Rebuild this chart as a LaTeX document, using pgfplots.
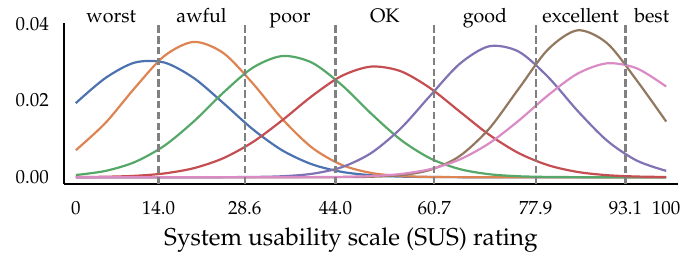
\documentclass[border=0pt]{standalone}
\usepackage[T1]{fontenc}
\usepackage{mathpazo}
\usepackage{pgfplots}
\pgfplotsset{compat=1.18}
\definecolor{cblue}{HTML}{4C72B0}
\definecolor{corange}{HTML}{DD8452}
\definecolor{cgreen}{HTML}{55A868}
\definecolor{cred}{HTML}{C44E52}
\definecolor{cpurple}{HTML}{8172B3}
\definecolor{cbrown}{HTML}{937860}
\definecolor{cpink}{HTML}{DA8BC3}
\definecolor{cgray}{HTML}{808080}
\tikzset{toplab/.style={anchor=base, font=\fontsize{9.8}{11}\selectfont, inner sep=0pt}}
\pgfplotsset{curve/.style={line width=1.1pt, smooth, tension=0.5, no markers}}
\begin{document}
\begin{tikzpicture}
\begin{axis}[
  scale only axis,
  width=307pt, height=80.7pt,
  xmin=-2, xmax=102,
  ymin=-0.0018, ymax=0.0403,
  clip=false,
  axis x line=bottom, axis y line=left,
  axis line style={-, line width=1pt, black},
  xtick={0,14,28.6,44,60.7,77.9,93.1,100},
  xticklabels={0,14.0,28.6,44.0,60.7,77.9,93.1,100},
  ytick={0,0.02,0.04},
  yticklabels={0.00,0.02,0.04},
  scaled y ticks=false,
  major tick length=0pt,
  xticklabel style={font=\fontsize{9.5}{11}\selectfont, yshift=-5pt},
  yticklabel style={font=\fontsize{9.5}{11}\selectfont, xshift=-4pt},
  xlabel={System usability scale (SUS) rating},
  xlabel style={font=\fontsize{12.2}{14}\selectfont, yshift=0.5pt, xshift=-10pt},
]
\addplot[curve, cblue] coordinates {(0,0.019317)(5,0.025850)(10,0.029905)(15,0.029905)(20,0.025850)(25,0.019317)(30,0.012477)(35,0.006967)(40,0.003362)(45,0.001403)(50,0.000506)(55,0.000158)(60,0.000043)(65,0.000010)(70,0.000002)(75,0)(80,0)(85,0)(90,0)(95,0)(100,0)};
\addplot[curve, corange] coordinates {(0,0.007031)(5,0.014117)(10,0.023303)(15,0.031628)(20,0.035293)(25,0.032380)(30,0.024425)(35,0.015148)(40,0.007724)(45,0.003238)(50,0.001116)(55,0.000316)(60,0.000074)(65,0.000014)(70,0.000002)(75,0)(80,0)(85,0)(90,0)(95,0)(100,0)};
\addplot[curve, cgreen] coordinates {(0,0.000572)(5,0.001627)(10,0.003955)(15,0.008212)(20,0.014568)(25,0.022077)(30,0.028583)(35,0.031613)(40,0.029871)(45,0.024112)(50,0.016628)(55,0.009796)(60,0.004930)(65,0.002119)(70,0.000779)(75,0.000244)(80,0.000066)(85,0.000015)(90,0.000003)(95,0)(100,0)};
\addplot[curve, cred] coordinates {(0,0.000032)(5,0.000115)(10,0.000358)(15,0.000981)(20,0.002357)(25,0.004967)(30,0.009183)(35,0.014886)(40,0.021162)(45,0.026384)(50,0.028847)(55,0.027661)(60,0.023259)(65,0.017153)(70,0.011093)(75,0.006292)(80,0.003129)(85,0.001365)(90,0.000522)(95,0.000175)(100,0.000052)};
\addplot[curve, cpurple] coordinates {(0,0)(5,0)(10,0)(15,0)(20,0.000002)(25,0.000012)(30,0.000059)(35,0.000250)(40,0.000882)(45,0.002580)(50,0.006272)(55,0.012660)(60,0.021219)(65,0.029537)(70,0.034143)(75,0.032775)(80,0.026127)(85,0.017297)(90,0.009510)(95,0.004341)(100,0.001646)};
\addplot[curve, cbrown] coordinates {(0,0)(5,0)(10,0)(15,0)(20,0)(25,0)(30,0)(35,0)(40,0.000003)(45,0.000020)(50,0.000113)(55,0.000520)(60,0.001898)(65,0.005497)(70,0.012634)(75,0.023043)(80,0.033354)(85,0.038316)(90,0.034932)(95,0.025275)(100,0.014513)};
\addplot[curve, cpink] coordinates {(0,0)(5,0)(10,0)(15,0)(20,0)(25,0)(30,0.000001)(35,0.000005)(40,0.000022)(45,0.000084)(50,0.000282)(55,0.000823)(60,0.002085)(65,0.004600)(70,0.008822)(75,0.014726)(80,0.021386)(85,0.027022)(90,0.029705)(95,0.028411)(100,0.023640)};
% boundary lines
\pgfplotsinvokeforeach{14,28.6,44,60.7,77.9,93.1}{
  \addplot[cgray, line width=1.1pt, sharp plot, no markers, dash pattern=on 3.7pt off 1.7pt] coordinates {(#1,-0.0018)(#1,0.0403)};
}
\node[toplab] at (axis cs:6,0.0403) {worst};
\node[toplab] at (axis cs:21.3,0.0403) {awful};
\node[toplab] at (axis cs:36.3,0.0403) {poor};
\node[toplab] at (axis cs:52.35,0.0403) {OK};
\node[toplab] at (axis cs:69.3,0.0403) {good};
\node[toplab] at (axis cs:85.5,0.0403) {excellent};
\node[toplab] at (axis cs:97.55,0.0403) {best};
\end{axis}
\path ([xshift=-32pt,yshift=-37pt]current axis.south west) rectangle ([xshift=9.5pt,yshift=11.35pt]current axis.north east);
\end{tikzpicture}
\end{document}
